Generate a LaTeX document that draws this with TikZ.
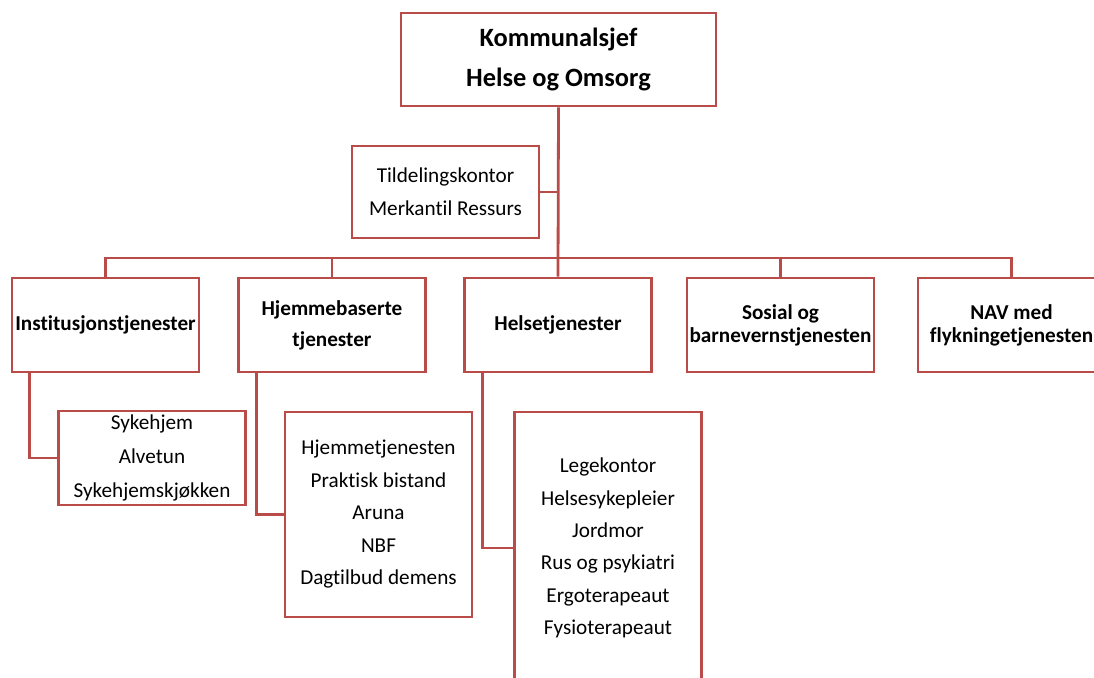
\documentclass[tikz,border=0pt]{standalone}
\usepackage{fontspec}
\setmainfont{Carlito}[Ligatures=NoCommon]
\definecolor{orgred}{RGB}{185,75,72}
\begin{document}
\begin{tikzpicture}[x=0.5pt,y=-0.5pt,
  box/.style={draw=orgred,line width=1.4pt,rectangle,inner sep=0pt,minimum width=93.5pt,minimum height=47pt,align=center,font=\fontsize{10.6}{16.5}\selectfont},
  headbox/.style={box,font=\bfseries\fontsize{10.6}{15.5}\selectfont},
  tightbox/.style={box,font=\bfseries\fontsize{10.6}{11.5}\selectfont},
  link/.style={draw=orgred,line width=1.4pt}]
\useasboundingbox (0,0) rectangle (1094,678);
\clip (0,0) rectangle (1094,678);

\node[box,minimum width=157.5pt,minimum height=46.5pt,font=\bfseries\fontsize{13.2}{20}\selectfont] (chief) at (558.5,59.5) {Kommunalsjef\\Helse og Omsorg};
\node[box,minimum height=46pt] (tild) at (445.5,192) {Tildelingskontor\\Merkantil Ressurs};

\node[headbox] (inst) at (105.5,325) {Institusjonstjenester};
\node[headbox] (hjem) at (332,325) {Hjemmebaserte\\tjenester};
\node[headbox] (helse) at (558,325) {Helsetjenester};
\node[tightbox] (sosial) at (780.5,325) {Sosial og\\barnevernstjenesten};
\node[tightbox] (nav) at (1011.5,325) {NAV med\\flykningetjenesten};

\node[box,font=\fontsize{10.6}{16.8}\selectfont] (syke) at (152,458) {Sykehjem\\Alvetun\\Sykehjemskjøkken};
\node[box,minimum height=102.5pt,font=\fontsize{10.6}{16.25}\selectfont] (hjemliste) at (378.5,514.5) {Hjemmetjenesten\\Praktisk bistand\\Aruna\\NBF\\Dagtilbud demens};
\node[box,minimum height=136pt,font=\fontsize{10.6}{16.2}\selectfont] (lege) at (608,548) {Legekontor\\Helsesykepleier\\Jordmor\\Rus og psykiatri\\Ergoterapeaut\\Fysioterapeaut};

\coordinate (bus) at (558,258);
\path[link] (chief.south) -- (helse.north);
\path[link] (tild.east) -- (tild.east -| chief.south);
\path[link] (inst.north) |- (bus) -| (nav.north);
\path[link] (hjem.north) -- (hjem.north |- bus);
\path[link] (sosial.north) -- (sosial.north |- bus);

\path[link] (inst.south west) ++(19,0) |- (syke.west);
\path[link] (hjem.south west) ++(19,0) |- (hjemliste.west);
\path[link] (helse.south west) ++(19,0) |- (lege.west);
\end{tikzpicture}
\end{document}
